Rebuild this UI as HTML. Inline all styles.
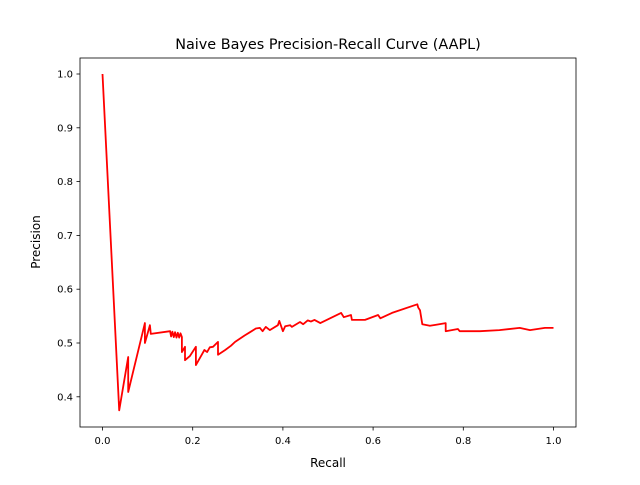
<!DOCTYPE html>
<html><head><meta charset="utf-8"><style>
body{margin:0;background:#fff}
svg text{font-family:"DejaVu Sans","Liberation Sans",sans-serif;fill:#000}
</style></head><body>
<svg id="chart" width="640" height="480">
<rect x="0" y="0" width="640" height="480" fill="#fff"/>
<text x="328" y="49" font-size="14.4" text-anchor="middle">Naive Bayes Precision-Recall Curve (AAPL)</text>
<text x="328" y="467" font-size="12" text-anchor="middle">Recall</text>
<text x="40" y="242" font-size="12" text-anchor="middle" transform="rotate(-90 40 242)">Precision</text>
<g id="ticks"></g>
<path id="curve" fill="none" stroke="#ff0000" stroke-width="1.8" stroke-linejoin="round"/>
<rect x="80" y="58" width="496" height="369" fill="none" stroke="#000" stroke-width="0.8"/>
</svg>
<script>
const recall=[0,0.037,0.057,0.057,0.094,0.094,0.105,0.107,0.150,0.152,0.155,0.158,0.161,0.164,0.167,0.170,0.173,0.176,0.176,0.183,0.183,0.194,0.207,0.207,0.220,0.226,0.232,0.238,0.245,0.256,0.256,0.265,0.272,0.285,0.294,0.315,0.327,0.340,0.349,0.355,0.362,0.371,0.389,0.392,0.400,0.405,0.416,0.420,0.438,0.445,0.455,0.462,0.470,0.483,0.529,0.535,0.551,0.553,0.582,0.611,0.616,0.642,0.698,0.700,0.704,0.709,0.726,0.740,0.761,0.761,0.788,0.792,0.837,0.880,0.925,0.948,0.981,1.0];
const precision=[1.0,0.375,0.474,0.409,0.537,0.500,0.533,0.517,0.522,0.512,0.521,0.511,0.520,0.510,0.519,0.510,0.518,0.511,0.483,0.493,0.468,0.476,0.493,0.459,0.478,0.487,0.483,0.492,0.493,0.502,0.478,0.483,0.487,0.495,0.502,0.514,0.520,0.527,0.528,0.522,0.530,0.524,0.533,0.541,0.522,0.531,0.533,0.530,0.539,0.535,0.542,0.540,0.543,0.537,0.556,0.548,0.552,0.543,0.543,0.552,0.546,0.556,0.572,0.566,0.561,0.535,0.532,0.534,0.537,0.522,0.526,0.522,0.522,0.524,0.528,0.524,0.528,0.528];
const xTicks=[0.0,0.2,0.4,0.6,0.8,1.0];
const yTicks=[0.4,0.5,0.6,0.7,0.8,0.9,1.0];
const xs=v=>102.5+v*451;
const ys=v=>74+(1-v)*538;
const NS="http://www.w3.org/2000/svg";
const g=document.getElementById('ticks');
function mk(t,a,txt){const e=document.createElementNS(NS,t);for(const k in a)e.setAttribute(k,a[k]);if(txt!==undefined)e.textContent=txt;g.appendChild(e);return e;}
xTicks.forEach(v=>{
 const l=mk('line',{x1:xs(v),x2:xs(v),y1:427,y2:430.5,stroke:'#000','stroke-width':0.8});
 
 
 const t=mk('text',{x:xs(v),y:444,'font-size':10,'text-anchor':'middle'},v.toFixed(1));
 
 
});
yTicks.forEach(v=>{
 const l=mk('line',{x1:76.5,x2:80,y1:ys(v),y2:ys(v),stroke:'#000','stroke-width':0.8});
 
 
 const t=mk('text',{x:73,y:ys(v)+3.5,'font-size':10,'text-anchor':'end'},v.toFixed(1));
 
 
});
document.getElementById('curve').setAttribute('d',recall.map((r,i)=>(i?'L':'M')+xs(r).toFixed(1)+' '+ys(precision[i]).toFixed(1)).join(' '));
</script>
</body></html>
